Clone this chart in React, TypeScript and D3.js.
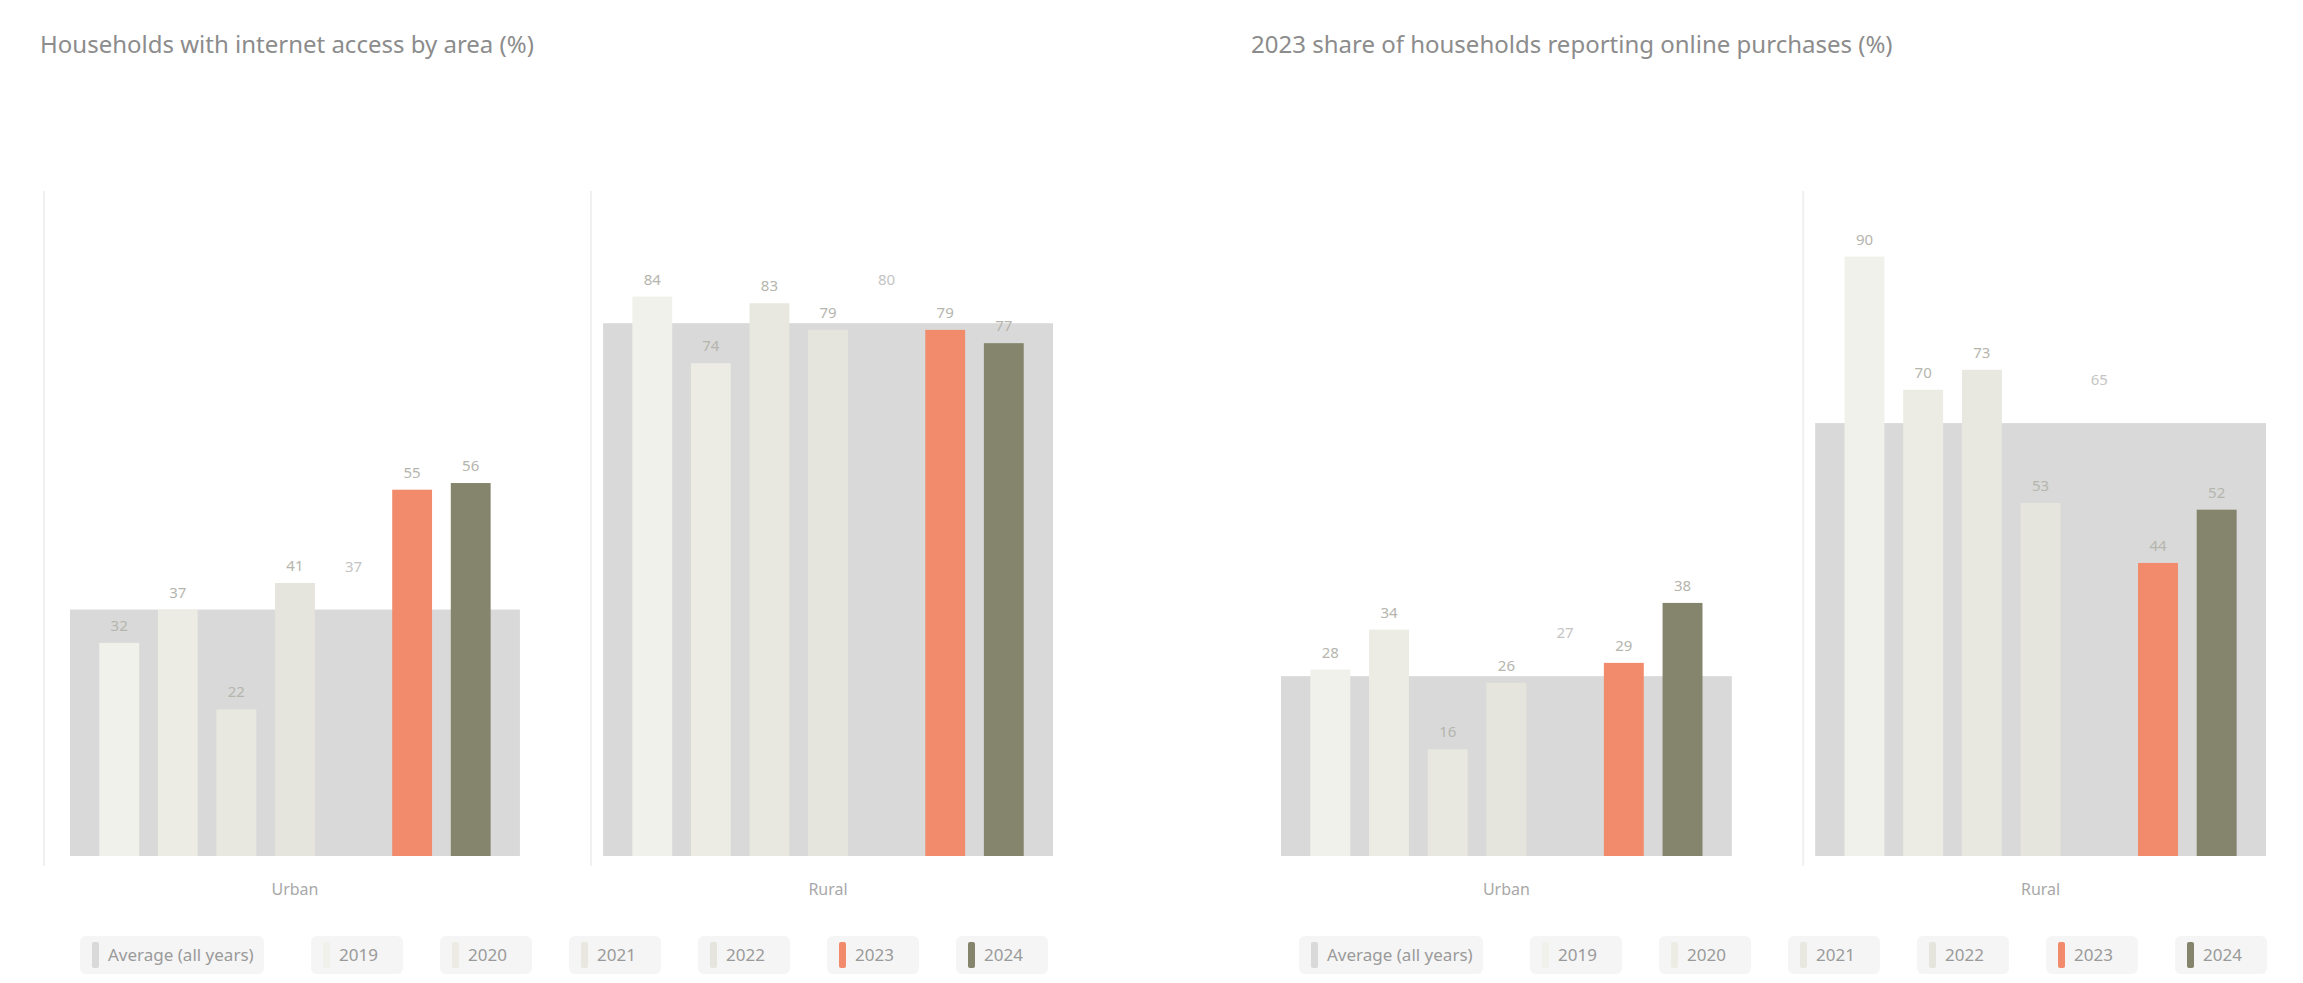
import React from "react";
import * as d3 from "d3";

// ---------- data ----------
const panelTitles = [
  "Households with internet access by area (%)",
  "2023 share of households reporting online purchases (%)",
];
const groupLabels = ["Urban", "Rural"];
const legendLabels = ["Average (all years)", "2019", "2020", "2021", "2022", "2023", "2024"];
const yearKeys = ["2019", "2020", "2021", "2022", "2023", "2024"];
const slotKeys = ["2019", "2020", "2021", "2022", "avg", "2023", "2024"];
const seriesColors = ["#f1f1eb", "#ecece5", "#e8e8e0", "#e5e5dd", "#f28b6c", "#85846c"];
const avgColor = "#d9d9d9";

// left panel values per group [Urban, Rural]
const leftAvg = [37, 80];
const left2019 = [32, 84];
const left2020 = [37, 74];
const left2021 = [22, 83];
const left2022 = [41, 79];
const left2023 = [55, 79];
const left2024 = [56, 77];
// right panel
const rightAvg = [27, 65];
const right2019 = [28, 90];
const right2020 = [34, 70];
const right2021 = [16, 73];
const right2022 = [26, 53];
const right2023 = [29, 44];
const right2024 = [38, 52];

const panels = [
  {
    title: panelTitles[0],
    avg: leftAvg,
    series: [left2019, left2020, left2021, left2022, left2023, left2024],
    x0: 70,
    x1: 1053,
    legendX: 92,
    axisLine: true,
  },
  {
    title: panelTitles[1],
    avg: rightAvg,
    series: [right2019, right2020, right2021, right2022, right2023, right2024],
    x0: 1281,
    x1: 2266,
    legendX: 1311,
    axisLine: false,
  },
];

const W = 2303;
const H = 983;
const y = d3.scaleLinear().domain([0, 100]).range([856, 190]);
const FONT = "'Noto Sans', 'DejaVu Sans', sans-serif";

function Panel({ p }: { p: (typeof panels)[number] }) {
  const x = d3.scaleBand<string>().domain(groupLabels).range([p.x0, p.x1]).paddingInner(0.156).paddingOuter(0);
  const sx = d3
    .scaleBand<string>()
    .domain(slotKeys)
    .range([0, x.bandwidth()])
    .paddingInner(0.32)
    .paddingOuter(0.5);
  const bw = sx.bandwidth();
  return (
    <g>
      <text x={p.x0 - 30} y={53} fontSize={24} fill="#8c8c8c" fontFamily={FONT}>
        {p.title}
      </text>
      {p.axisLine && <line x1={44} x2={44} y1={191} y2={866} stroke="#f0f0f0" strokeWidth={2} />}
      {groupLabels.slice(1).map((g) => (
        <line
          key={"sep" + g}
          x1={(x(g) as number) - 12}
          x2={(x(g) as number) - 12}
          y1={191}
          y2={866}
          stroke="#f0f0f0"
          strokeWidth={2}
        />
      ))}
      {groupLabels.map((g, gi) => {
        const gx = x(g) as number;
        const avgY = y(p.avg[gi]);
        const centerSlot = slotKeys[3];
        return (
          <g key={g}>
            <rect x={gx} y={avgY} width={x.bandwidth()} height={y(0) - avgY} fill={avgColor} />
            <text
              x={gx + (sx("avg") as number) + bw / 2}
              y={avgY - 38}
              textAnchor="middle"
              fontSize={15}
              fill="#c4c4c4"
              fontFamily={FONT}
            >
              {p.avg[gi]}
            </text>
            {yearKeys.map((k, si) => {
              const v = p.series[si][gi];
              const bx = gx + (sx(k) as number);
              const by = y(v);
              return (
                <g key={k}>
                  <rect x={bx} y={by} width={bw} height={y(0) - by} fill={seriesColors[si]} />
                  <text
                    x={bx + bw / 2}
                    y={by - 12}
                    textAnchor="middle"
                    fontSize={15}
                    fill="#b5b5ad"
                    fontFamily={FONT}
                  >
                    {v}
                  </text>
                </g>
              );
            })}
            <text
              x={gx + (sx(centerSlot) as number) + bw / 2}
              y={895}
              textAnchor="middle"
              fontSize={16}
              fill="#a8a8a8"
              fontFamily={FONT}
            >
              {g}
            </text>
          </g>
        );
      })}
      {legendLabels.map((lab, i) => {
        const lx = i === 0 ? p.legendX : p.legendX + 231 + (i - 1) * 129;
        const color = i === 0 ? avgColor : seriesColors[i - 1];
        const pillW = i === 0 ? 184 : 92;
        return (
          <g key={lab} transform={`translate(${lx},955)`}>
            <rect x={-12} y={-19} width={pillW} height={38} rx={6} fill="#f5f5f5" />
            <rect x={0} y={-13} width={7} height={26} rx={2} fill={color} />
            <text x={16} y={6} fontSize={17} fill="#9a9a9a" fontFamily={FONT}>
              {lab}
            </text>
          </g>
        );
      })}
    </g>
  );
}

export default function App() {
  return (
    <svg
      width={W}
      height={H}
      style={{ position: "absolute", left: 0, top: 0, background: "#ffffff" }}
    >
      <rect width={W} height={H} fill="#ffffff" />
      {panels.map((p, i) => (
        <Panel key={i} p={p} />
      ))}
    </svg>
  );
}
